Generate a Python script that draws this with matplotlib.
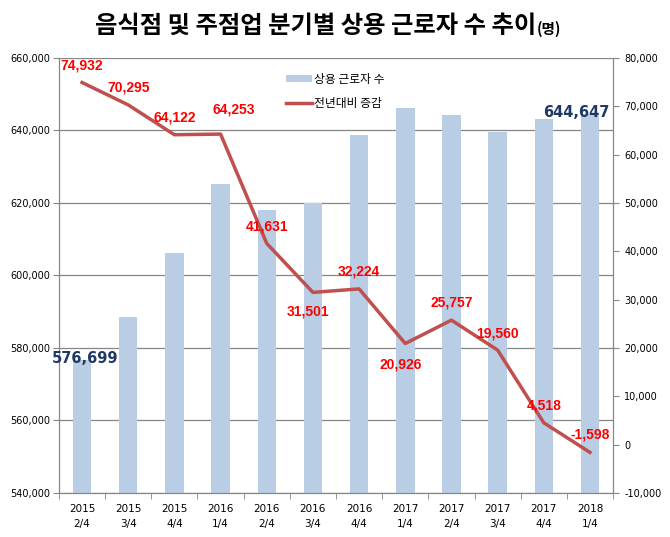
import matplotlib
matplotlib.use('Agg')
import matplotlib.pyplot as plt
from matplotlib.ticker import FuncFormatter, FixedLocator, NullFormatter

plt.rcParams['font.family'] = ['Noto Sans CJK KR', 'DejaVu Sans']

# 데이터
quarters = ['2015\n2/4', '2015\n3/4', '2015\n4/4', '2016\n1/4', '2016\n2/4', '2016\n3/4',
            '2016\n4/4', '2017\n1/4', '2017\n2/4', '2017\n3/4', '2017\n4/4', '2018\n1/4']
workers = [576699, 588550, 606300, 625300, 618150, 620000,
           638760, 646290, 644280, 639590, 643170, 644647]
yoy = [74932, 70295, 64122, 64253, 41631, 31501,
       32224, 20926, 25757, 19560, 4518, -1598]
# 라벨 오프셋 (pt)
lab_off = [(0, 12.5), (0, 12.5), (0, 12.5), (9.6, 18), (0, 12.5), (-3.6, -13.5),
           (0, 12.5), (-3, -15), (0, 12.5), (0, 12), (0, 12.5), (0, 12.5)]

bar_color = '#b9cde5'
line_color = '#c0504d'
axis_color = '#868686'

fig = plt.figure(figsize=(6.7, 5.37), dpi=100)
ax = fig.add_axes([0.088, 0.082, 0.827, 0.810])
x = list(range(len(quarters)))

ax.bar(x, workers, width=0.4, color=bar_color, zorder=2, label='상용 근로자 수')
ax.set_ylim(540000, 660000)
ax.set_xlim(-0.5, len(quarters) - 0.5)
ax.set_yticks(range(540000, 660001, 20000))
ax.yaxis.set_major_formatter(FuncFormatter(lambda v, p: '{:,.0f}'.format(v)))
ax.grid(axis='y', color=axis_color, linewidth=0.9, zorder=0)
ax.set_axisbelow(True)

ax.set_xticks(x)
ax.set_xticklabels(quarters, fontsize=7.5, family='DejaVu Sans', linespacing=1.6)
ax.xaxis.set_minor_locator(FixedLocator([i - 0.5 for i in range(len(quarters) + 1)]))
ax.xaxis.set_minor_formatter(NullFormatter())
ax.tick_params(axis='x', which='major', length=0, pad=8)
ax.tick_params(axis='x', which='minor', length=4, color=axis_color)
ax.tick_params(axis='y', labelsize=7, color=axis_color, length=4, pad=2)
for lb in ax.get_yticklabels():
    lb.set_family('DejaVu Sans')
for s in ['left', 'bottom', 'right', 'top']:
    ax.spines[s].set_color(axis_color)
ax.spines['top'].set_visible(False)

ax2 = ax.twinx()
ax2.plot(x, yoy, color=line_color, linewidth=2.5, zorder=3, label='전년대비 증감')
ax2.set_ylim(-10000, 80000)
ax2.set_yticks(range(-10000, 80001, 10000))
ax2.yaxis.set_major_formatter(FuncFormatter(lambda v, p: '{:,.0f}'.format(v)))
ax2.tick_params(axis='y', labelsize=7, color=axis_color, length=4, pad=4)
for lb in ax2.get_yticklabels():
    lb.set_family('DejaVu Sans')
for s in ['left', 'bottom', 'right', 'top']:
    ax2.spines[s].set_color(axis_color)
ax2.spines['top'].set_visible(False)

for i, v in enumerate(yoy):
    ax2.annotate('{:,}'.format(v), (x[i], v), xytext=lab_off[i], textcoords='offset points',
                 ha='center', va='center', color='#ff0000', fontsize=10, fontweight='bold',
                 family='Liberation Sans')

# 첫/마지막 막대 값
ax2.annotate('{:,}'.format(workers[0]), (x[0], -10000 + (workers[0] - 540000) * 90000 / 120000),
             xytext=(2, 1), textcoords='offset points', ha='center', va='center',
             color='#1f3864', fontsize=10.5, fontweight='bold', family='DejaVu Sans')
ax2.annotate('{:,}'.format(workers[-1]), (x[-1], -10000 + (workers[-1] - 540000) * 90000 / 120000),
             xytext=(-10, 0.5), textcoords='offset points', ha='center', va='center',
             color='#1f3864', fontsize=10.5, fontweight='bold', family='DejaVu Sans')

h1, l1 = ax.get_legend_handles_labels()
h2, l2 = ax2.get_legend_handles_labels()
ax2.legend(h1 + h2, l1 + l2, loc='upper left', bbox_to_anchor=(0.39, 0.99), frameon=False,
           fontsize=8.5, handlelength=2.2, handleheight=0.5, labelspacing=0.9, handletextpad=0.2)

fig.text(536 / 670, 1 - 26 / 537, '음식점 및 주점업 분기별 상용 근로자 수 추이', ha='right', va='center',
         fontsize=17.5, fontweight='bold')
fig.text(537 / 670, 1 - 29 / 537, '(명)', ha='left', va='center', fontsize=10.5, fontweight='bold')

fig.savefig('out.png', dpi=100)
